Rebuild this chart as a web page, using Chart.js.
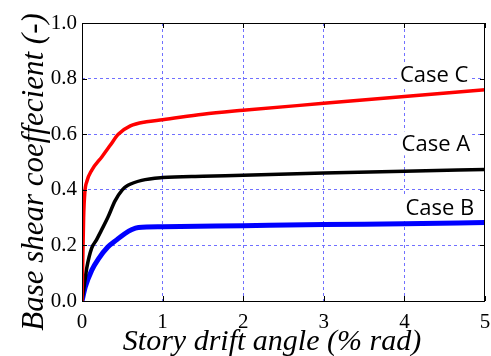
<!DOCTYPE html>
<html>
<head>
<meta charset="utf-8">
<script src="https://cdn.jsdelivr.net/npm/chart.js@4.4.0/dist/chart.umd.min.js"></script>
<style>
  html, body { margin: 0; padding: 0; background: #fff; }
  #wrap { width: 491px; height: 356px; }
</style>
</head>
<body>
<div id="wrap"><canvas id="myChart" width="491" height="356"></canvas></div>
<script>
// drift angle (% rad) and base shear coefficient for each case
var caseCX = [0, 0.01, 0.02, 0.035, 0.06, 0.12, 0.25, 0.35, 0.45, 0.6, 0.8, 1.0, 1.5, 2, 3, 4, 5];
var caseCY = [0, 0.15, 0.30, 0.39, 0.43, 0.47, 0.52, 0.56, 0.60, 0.63, 0.645, 0.652, 0.672, 0.686, 0.711, 0.736, 0.760];

var caseAX = [0, 0.03, 0.06, 0.12, 0.18, 0.24, 0.32, 0.41, 0.5, 0.57, 0.74, 1.0, 1.5, 2, 3, 4, 5];
var caseAY = [0, 0.06, 0.12, 0.19, 0.22, 0.254, 0.30, 0.36, 0.40, 0.416, 0.434, 0.444, 0.449, 0.452, 0.46, 0.467, 0.473];

var caseBX = [0, 0.04, 0.12, 0.2, 0.32, 0.43, 0.53, 0.62, 0.7, 1.0, 2, 3, 4, 5];
var caseBY = [0, 0.05, 0.11, 0.15, 0.194, 0.22, 0.242, 0.257, 0.264, 0.267, 0.271, 0.275, 0.278, 0.282];

var xTicks = [0, 1, 2, 3, 4, 5];
var yTicks = [0, 0.2, 0.4, 0.6, 0.8, 1.0];

// curve labels, placed in data units
var caseNames = ['Case C', 'Case A', 'Case B'];
var caseLabelX = [4.37, 4.39, 4.44];
var caseLabelY = [0.815, 0.567, 0.337];

var serif = '"Liberation Serif", serif';
var sans = '"Open Sans", sans-serif';

function toPoints(xs, ys) {
    return xs.map((x, i) => { return { x: x, y: ys[i] }; });
}

// box round the plot, inner tick marks, curve labels and axis titles
var framePlugin = {
    id: 'frame',
    afterDatasetsDraw(chart) {
        var ctx = chart.ctx;
        var a = chart.chartArea;
        var xs = chart.scales.x;
        var ys = chart.scales.y;
        ctx.save();
        ctx.strokeStyle = '#000';
        ctx.lineWidth = 1;
        ctx.strokeRect(a.left + 0.5, a.top + 0.5, a.right - a.left - 1, a.bottom - a.top);
        var len = 5;
        ctx.beginPath();
        xTicks.forEach((v) => {
            var px = Math.round(xs.getPixelForValue(v)) + 0.5;
            ctx.moveTo(px, a.bottom); ctx.lineTo(px, a.bottom - len);
            ctx.moveTo(px, a.top); ctx.lineTo(px, a.top + len);
        });
        yTicks.forEach((v) => {
            var py = Math.round(ys.getPixelForValue(v)) + 0.5;
            ctx.moveTo(a.left, py); ctx.lineTo(a.left + len, py);
            ctx.moveTo(a.right, py); ctx.lineTo(a.right - len, py);
        });
        ctx.stroke();

        ctx.font = '22px ' + sans;
        ctx.textAlign = 'center';
        ctx.textBaseline = 'middle';
        caseNames.forEach((name, i) => {
            var cx = xs.getPixelForValue(caseLabelX[i]);
            var cy = ys.getPixelForValue(caseLabelY[i]);
            var w = ctx.measureText(name).width;
            ctx.fillStyle = '#fff';
            ctx.fillRect(cx - w / 2 - 2, cy - 12, w + 4, 24);
            ctx.fillStyle = '#000';
            ctx.fillText(name, cx, cy + 1);
        });

        ctx.textBaseline = 'alphabetic';
        ctx.font = 'italic 30px ' + serif;
        ctx.fillText('Story drift angle (% rad)', 272, 350);
        ctx.font = 'italic 31px ' + serif;
        ctx.translate(43, 172);
        ctx.rotate(-Math.PI / 2);
        ctx.fillText('Base shear coeffecient (-)', 0, 0);
        ctx.restore();
    }
};

function gridColor(c, lo, hi) {
    return (c.tick.value === lo || c.tick.value === hi) ? 'rgba(0,0,0,0)' : '#7070ff';
}

var ctx = document.getElementById('myChart').getContext('2d');
var myChart = new Chart(ctx, {
    type: 'line',
    data: {
        datasets: [{
            label: 'Case C',
            data: toPoints(caseCX, caseCY),
            borderColor: '#ff0000',
            borderWidth: 3.5
        }, {
            label: 'Case A',
            data: toPoints(caseAX, caseAY),
            borderColor: '#000000',
            borderWidth: 3.5
        }, {
            label: 'Case B',
            data: toPoints(caseBX, caseBY),
            borderColor: '#0000ff',
            borderWidth: 5
        }]
    },
    options: {
        responsive: false,
        animation: false,
        layout: { padding: { top: 23, right: 6, left: 0, bottom: 0 } },
        elements: {
            point: { radius: 0 },
            line: { cubicInterpolationMode: 'monotone', fill: false }
        },
        plugins: {
            legend: { display: false },
            tooltip: { enabled: false }
        },
        scales: {
            x: {
                type: 'linear',
                min: 0,
                max: 5,
                afterFit: (s) => { s.height = 55; s.paddingLeft = 0; s.paddingRight = 0; },
                afterBuildTicks: (s) => { s.ticks = xTicks.map((v) => { return { value: v }; }); },
                border: { display: false, dash: [3, 3] },
                grid: {
                    drawTicks: false,
                    color: (c) => gridColor(c, 0, 5),
                    lineWidth: 1
                },
                ticks: {
                    padding: 9,
                    color: '#000',
                    font: { family: serif, size: 21 },
                    callback: (v) => { return String(v); }
                }
            },
            y: {
                min: 0,
                max: 1,
                afterFit: (s) => { s.width = 82; s.paddingTop = 0; s.paddingBottom = 0; },
                afterBuildTicks: (s) => { s.ticks = yTicks.map((v) => { return { value: v }; }); },
                border: { display: false, dash: [3, 3] },
                grid: {
                    drawTicks: false,
                    color: (c) => gridColor(c, 0, 1),
                    lineWidth: 1
                },
                ticks: {
                    padding: 5,
                    color: '#000',
                    font: { family: serif, size: 21 },
                    callback: (v) => { return v.toFixed(1); }
                }
            }
        }
    },
    plugins: [framePlugin]
});
</script>
</body>
</html>
